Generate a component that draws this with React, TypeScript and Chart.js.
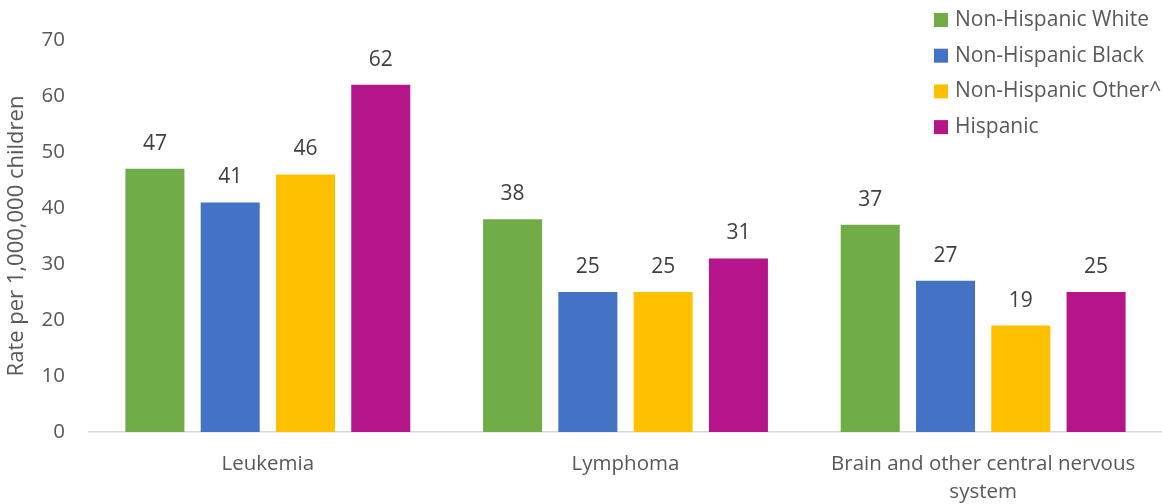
import React, { useEffect, useRef } from "react";
import { Chart, registerables } from "chart.js";

Chart.register(...registerables);

const categories: (string | string[])[] = [
  "Leukemia",
  "Lymphoma",
  ["Brain and other central nervous", "system"],
];
const seriesNames = ["Non-Hispanic White", "Non-Hispanic Black", "Non-Hispanic Other^", "Hispanic"];
const white = [47, 38, 37];
const black = [41, 25, 27];
const other = [46, 25, 19];
const hispanic = [62, 31, 25];
const colors = ["#70AD47", "#4472C4", "#FFC000", "#B5158B"];
const yTitle = "Rate per 1,000,000 children";

const FONT = "'Open Sans', sans-serif";
const TEXT = "#595959";

const labelPlugin = {
  id: "valueLabels",
  afterDatasetsDraw(chart: any) {
    const ctx = chart.ctx;
    ctx.save();
    ctx.font = `21px ${FONT}`;
    ctx.fillStyle = "#404040";
    ctx.textAlign = "center";
    ctx.textBaseline = "middle";
    chart.data.datasets.forEach((ds: any, i: number) => {
      const meta = chart.getDatasetMeta(i);
      meta.data.forEach((bar: any, j: number) => {
        ctx.fillText(String(ds.data[j]), bar.x, bar.y - 25);
      });
    });
    ctx.restore();
  },
};

const legendPlugin = {
  id: "customLegend",
  afterDraw(chart: any) {
    const ctx = chart.ctx;
    ctx.save();
    ctx.font = `21px ${FONT}`;
    ctx.textBaseline = "middle";
    ctx.textAlign = "left";
    chart.data.datasets.forEach((ds: any, i: number) => {
      const cy = 20 + i * 35.7;
      ctx.fillStyle = ds.backgroundColor;
      ctx.fillRect(934, cy - 7, 14, 14);
      ctx.fillStyle = TEXT;
      ctx.fillText(ds.label, 955, cy);
    });
    ctx.restore();
  },
};

export default function App() {
  const ref = useRef<HTMLCanvasElement>(null);
  useEffect(() => {
    document.body.style.margin = "0";
    const series = [white, black, other, hispanic];
    const chart = new Chart(ref.current!, {
      type: "bar",
      data: {
        labels: categories,
        datasets: series.map((d, i) => ({
          label: seriesNames[i],
          data: d,
          backgroundColor: colors[i],
          barPercentage: 0.784,
          categoryPercentage: 0.842,
        })),
      },
      options: {
        animation: false,
        responsive: false,
        maintainAspectRatio: false,
        layout: { padding: { top: 40, right: 0, left: 0, bottom: 0 } },
        plugins: {
          legend: { display: false },
          tooltip: { enabled: false },
        },
        scales: {
          x: {
            afterFit(scale: any) {
              scale.height = 72;
            },
            grid: { display: false, drawTicks: false },
            border: { display: true, color: "#D9D9D9", width: 1.5 },
            ticks: {
              color: TEXT,
              font: { family: FONT, size: 20.5, lineHeight: 1.36 },
              padding: 18,
              maxRotation: 0,
              autoSkip: false,
            },
          },
          y: {
            min: 0,
            max: 70,
            afterFit(scale: any) {
              scale.width = 89;
            },
            grid: { display: false, drawTicks: false },
            border: { display: false },
            ticks: {
              stepSize: 10,
              color: TEXT,
              font: { family: FONT, size: 20.5 },
              padding: 24,
            },
            title: {
              display: true,
              text: yTitle,
              color: TEXT,
              font: { family: FONT, size: 22 },
              padding: { top: 4, bottom: 0 },
            },
          },
        },
      },
      plugins: [labelPlugin, legendPlugin],
    });
    return () => chart.destroy();
  }, []);
  return (
    <div style={{ width: 1162, height: 504 }}>
      <canvas ref={ref} width={1162} height={504} />
    </div>
  );
}
